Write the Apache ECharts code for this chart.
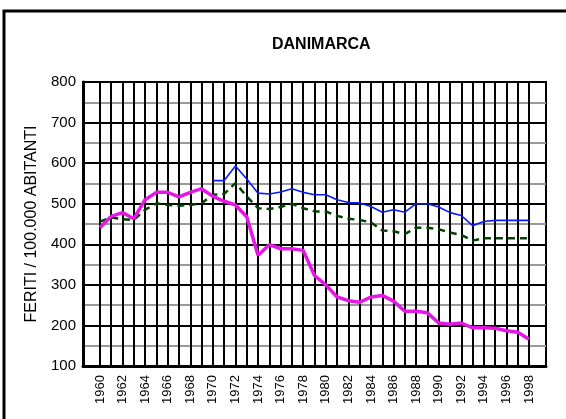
<!DOCTYPE html>
<html>
<head>
<meta charset="utf-8">
<script src="https://cdn.jsdelivr.net/npm/echarts@6/dist/echarts.min.js"></script>
<style>
html,body{margin:0;padding:0;background:#fff}
#main{width:566px;height:419px}
</style>
</head>
<body>
<div id="main"></div>
<script>
// anni
var anni = ['1960','1961','1962','1963','1964','1965','1966','1967','1968','1969',
            '1970','1971','1972','1973','1974','1975','1976','1977','1978','1979',
            '1980','1981','1982','1983','1984','1985','1986','1987','1988','1989',
            '1990','1991','1992','1993','1994','1995','1996','1997','1998'];
// serie (feriti / 100.000 abitanti)
var serieMagenta = [441,469,478,463,510,528,528,517,528,537,
                    518,506,497,468,373,399,389,389,385,323,
                    300,270,261,257,270,274,260,235,235,231,
                    206,203,206,194,194,193,187,183,166];
var serieBlu = [null,null,null,null,null,null,null,null,null,null,
                557,557,593,561,526,524,529,537,528,522,
                522,510,503,502,493,479,485,479,500,500,
                492,478,471,446,456,459,459,459,459];
var serieVerde = [456,466,462,460,485,501,497,495,497,501,
                  522,524,551,518,489,487,492,500,489,481,
                  481,470,463,460,454,434,432,425,441,441,
                  437,429,423,409,415,415,415,415,415];

var font = "'Liberation Sans Narrow', 'Arial Narrow', 'Liberation Sans', sans-serif";

// un anno vuoto prima e dopo, come nel grafico originale
var categorie = ['1959'].concat(anni, ['1999']);
function pad(a){ return [null].concat(a, [null]); }
function interno(idx){ return idx >= 1 && idx <= anni.length; }

var myChart = echarts.init(document.getElementById('main'));
var option = {
    animation: false,
    backgroundColor: '#fff',
    title: {
        text: 'DANIMARCA',
        left: 272, top: 37, padding: 0,
        textStyle: {fontFamily: font, fontSize: 16, fontWeight: 'bold', color: '#000'}
    },
    graphic: [{
        type: 'rect', silent: true,
        shape: {x: 4, y: 11, width: 700, height: 600},
        style: {fill: 'none', stroke: '#000', lineWidth: 3}
    }],
    grid: {
        left: 83, right: 20, top: 82, bottom: 53,
        show: true, borderColor: '#000', borderWidth: 2
    },
    xAxis: {
        type: 'category',
        data: categorie,
        boundaryGap: true,
        axisLine: {lineStyle: {color: '#000', width: 3}},
        axisTick: {show: false},
        axisLabel: {
            rotate: 90, margin: 9, color: '#000',
            fontFamily: font, fontSize: 13,
            interval: function(idx){ return interno(idx) && (idx - 1) % 2 === 0; }
        },
        splitLine: {
            show: true, alignWithLabel: true,
            interval: function(idx){ return interno(idx); },
            lineStyle: {color: '#000', width: 2}
        }
    },
    yAxis: {
        type: 'value',
        min: 100, max: 800, interval: 100,
        name: 'FERITI / 100.000 ABITANTI',
        nameLocation: 'middle', nameGap: 35,
        nameTextStyle: {fontFamily: font, fontSize: 16, color: '#000'},
        axisLine: {show: true, lineStyle: {color: '#000', width: 3}},
        axisTick: {show: false},
        axisLabel: {color: '#000', fontFamily: font, fontSize: 15, margin: 7},
        splitLine: {show: true, lineStyle: {color: '#000', width: 2}},
        minorTick: {show: false, splitNumber: 2},
        minorSplitLine: {show: true, lineStyle: {color: '#999', width: 2}}
    },
    series: [
        {
            name: 'verde', type: 'line', data: pad(serieVerde),
            symbol: 'none',
            lineStyle: {color: '#004400', width: 2.5, type: [7, 5]}
        },
        {
            name: 'blu', type: 'line', data: pad(serieBlu),
            symbol: 'none',
            lineStyle: {color: '#0a1aff', width: 1.6}
        },
        {
            name: 'magenta', type: 'line', data: pad(serieMagenta),
            symbol: 'none',
            lineStyle: {color: '#e617e6', width: 3.5}
        }
    ]
};
myChart.setOption(option);
</script>
</body>
</html>
